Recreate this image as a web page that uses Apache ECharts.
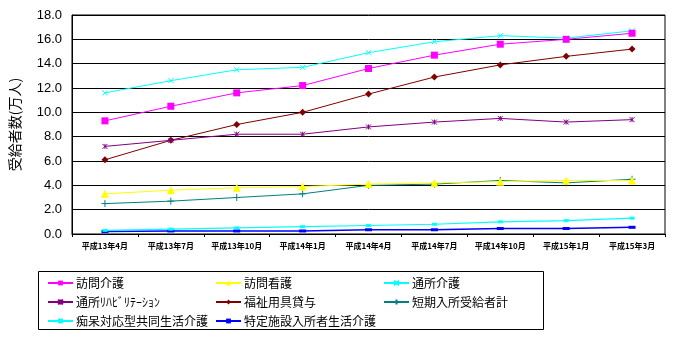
<!DOCTYPE html>
<html><head><meta charset="utf-8">
<script src="https://cdn.jsdelivr.net/npm/echarts@6/dist/echarts.min.js"></script>
<style>html,body{margin:0;padding:0;background:#fff}#c{width:675px;height:338px}</style>
</head><body><div id="c"></div>
<script>
const categories = ['平成13年4月','平成13年7月','平成13年10月','平成14年1月','平成14年4月','平成14年7月','平成14年10月','平成15年1月','平成15年3月'];
const houmonKaigo   = [9.3, 10.5, 11.6, 12.2, 13.6, 14.7, 15.6, 16.0, 16.5];
const houmonKango   = [3.3, 3.6, 3.8, 3.9, 4.1, 4.2, 4.3, 4.4, 4.4];
const tsushoKaigo   = [11.6, 12.6, 13.5, 13.7, 14.9, 15.8, 16.3, 16.1, 16.7];
const tsushoReha    = [7.2, 7.7, 8.2, 8.2, 8.8, 9.2, 9.5, 9.2, 9.4];
const fukushiYogu   = [6.1, 7.7, 9.0, 10.0, 11.5, 12.9, 13.9, 14.6, 15.2];
const tankiNyusho   = [2.5, 2.7, 3.0, 3.3, 4.0, 4.1, 4.4, 4.2, 4.5];
const chihoGH       = [0.3, 0.4, 0.5, 0.6, 0.7, 0.8, 1.0, 1.1, 1.3];
const tokuteiShisetsu = [0.2, 0.25, 0.25, 0.25, 0.35, 0.35, 0.45, 0.45, 0.55];
const yTicks = [0, 2, 4, 6, 8, 10, 12, 14, 16, 18];

const names = ['訪問介護','訪問看護','通所介護','通所ﾘﾊﾋﾞﾘﾃｰｼｮﾝ','福祉用具貸与','短期入所受給者計','痴呆対応型共同生活介護','特定施設入所者生活介護'];
const dataSets = [houmonKaigo, houmonKango, tsushoKaigo, tsushoReha, fukushiYogu, tankiNyusho, chihoGH, tokuteiShisetsu];
const colors = ['#FF00FF','#FFFF00','#00FFFF','#800080','#800000','#008080','#00FFFF','#0000FF'];
const X = 'path://M0,0L10,10M10,0L0,10';
const AST = 'path://M0,0L10,10M10,0L0,10M5,0L5,10';
const PLUS = 'path://M5,0L5,10M0,5L10,5';
const symbols = ['rect','triangle',X,AST,'diamond',PLUS,'rect','rect'];
const symSizes = [7, 8, 5, 5, 7, 7, [5,3], [7,3]];
const lineWidths = [1,1,1,1,1,1,1.2,1.5];

const series = names.map((n,i)=>({
  name: n, type: 'line', data: dataSets[i], symbol: symbols[i], symbolSize: symSizes[i],
  lineStyle: {color: colors[i], width: lineWidths[i]},
  itemStyle: {color: colors[i], borderColor: colors[i], borderWidth: (i===2||i===3||i===5)?1:0},
  animation: false, z: 10 - i
}));

const colX = [47, 215, 383];
const rowY = [277, 296, 315];
const legends = names.map((n,i)=>({
  data: [n], left: colX[i%3], top: rowY[Math.floor(i/3)], padding: 0,
  itemWidth: 25, itemHeight: 6, itemGap: 4, selectedMode: false,
  textStyle: {fontSize: 12, color: '#000', fontFamily: 'Noto Sans CJK JP', padding:[0,0,0,-2]}
}));

const chart = echarts.init(document.getElementById('c'), null, {renderer:'canvas'});
chart.setOption({
  animation: false,
  backgroundColor: '#fff',
  grid: {left: 68, right: 10, top: 15, bottom: 104, show: true, borderColor: '#000', borderWidth: 1},
  xAxis: {
    type: 'category', data: categories, boundaryGap: true,
    axisLine: {lineStyle: {color: '#000', width: 1}},
    axisTick: {show: true, length: 3, lineStyle: {color: '#000'}},
    axisLabel: {interval: 0, fontSize: 8, fontWeight: 'bold', color: '#000', margin: 8, fontFamily: 'Noto Sans CJK JP'}
  },
  yAxis: {
    type: 'value', min: yTicks[0], max: yTicks[yTicks.length-1], interval: 2,
    name: '受給者数(万人)', nameLocation: 'middle', nameRotate: 90, nameGap: 50,
    nameTextStyle: {fontSize: 14, color: '#000', fontFamily: 'Noto Sans CJK JP'},
    axisLine: {show: true, lineStyle: {color: '#000'}},
    axisTick: {show: false},
    splitLine: {lineStyle: {color: '#000', width: 1}},
    axisLabel: {fontSize: 13, color: '#000', fontFamily: 'Liberation Sans', margin: 10, formatter: v => v.toFixed(1)}
  },
  legend: legends,
  graphic: [{type: 'rect', shape: {x: 38.5, y: 271.5, width: 505, height: 58}, style: {fill: 'none', stroke: '#000', lineWidth: 1}, z: -1}],
  series: series
});
</script></body></html>
